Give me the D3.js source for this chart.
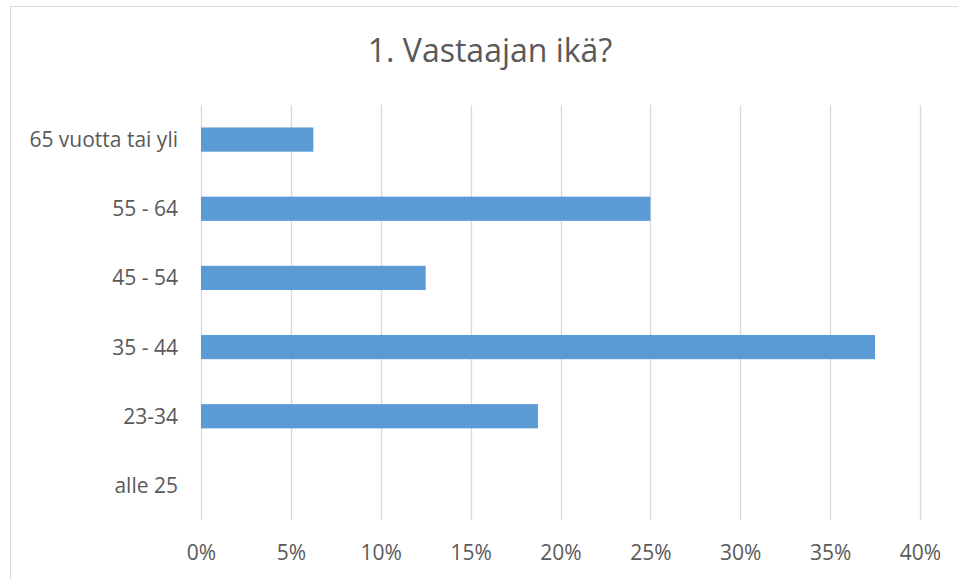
<!DOCTYPE html>
<html>
<head>
<meta charset="utf-8">
<script src="https://cdn.jsdelivr.net/npm/d3@7"></script>
<style>
  body { margin: 0; background: #fff; }
  svg { display: block; font-family: "Open Sans", sans-serif; }
</style>
</head>
<body>
<div id="chart"></div>
<script>
var width = 958,
    height = 579;

// data (top to bottom)
var categories = ["65 vuotta tai yli", "55 - 64", "45 - 54", "35 - 44", "23-34", "alle 25"];
var values = [0.0625, 0.25, 0.125, 0.375, 0.1875, 0];
var ticks = [0, 0.05, 0.10, 0.15, 0.20, 0.25, 0.30, 0.35, 0.40];
var title = "1. Vastaajan ikä?";

var margin = {top: 105, right: 38, bottom: 59, left: 201};

var svg = d3.select("#chart").append("svg")
    .attr("width", width)
    .attr("height", height);

// chart frame (runs off the right and bottom edge in the original)
svg.append("rect")
    .attr("x", 10.5)
    .attr("y", 6.5)
    .attr("width", 960)
    .attr("height", 600)
    .attr("fill", "#fff")
    .attr("stroke", "#d9d9d9")
    .attr("stroke-width", 1);

var x = d3.scaleLinear()
    .domain([0, 0.4])
    .range([margin.left, width - margin.right]);

var y = d3.scaleBand()
    .domain(categories)
    .range([margin.top, height - margin.bottom])
    .paddingInner(0.65)
    .paddingOuter(0.325);

// vertical gridlines
svg.append("g")
    .selectAll("line")
    .data(ticks)
    .join("line")
    .attr("x1", function(d) { return Math.round(x(d)) + 0.5; })
    .attr("x2", function(d) { return Math.round(x(d)) + 0.5; })
    .attr("y1", margin.top)
    .attr("y2", height - margin.bottom)
    .attr("stroke", "#d9d9d9")
    .attr("stroke-width", 1.3);

// bars
svg.append("g")
    .selectAll("rect")
    .data(values)
    .join("rect")
    .attr("x", x(0))
    .attr("y", function(d, i) { return y(categories[i]); })
    .attr("width", function(d) { return x(d) - x(0); })
    .attr("height", y.bandwidth())
    .attr("fill", "#5b9bd5");

// x axis labels
var xAxis = svg.append("g")
    .attr("transform", "translate(0," + (height - margin.bottom) + ")")
    .call(d3.axisBottom(x).tickValues(ticks).tickFormat(d3.format(".0%")).tickSize(0).tickPadding(0));
xAxis.select(".domain").remove();
xAxis.selectAll("text")
    .attr("y", 40)
    .attr("dy", null)
    .attr("fill", "#595959")
    .style("font-size", "21px")
    .style("font-family", "Open Sans");

// category labels
var yAxis = svg.append("g")
    .attr("transform", "translate(178,0)")
    .call(d3.axisLeft(y).tickSize(0).tickPadding(0));
yAxis.select(".domain").remove();
yAxis.selectAll("text")
    .attr("dy", "0.36em")
    .attr("fill", "#595959")
    .style("font-size", "21px")
    .style("font-family", "Open Sans");

// title
svg.append("text")
    .attr("x", 490)
    .attr("y", 62)
    .attr("text-anchor", "middle")
    .attr("fill", "#595959")
    .style("font-size", "32px")
    .text(title);
</script>
</body>
</html>
